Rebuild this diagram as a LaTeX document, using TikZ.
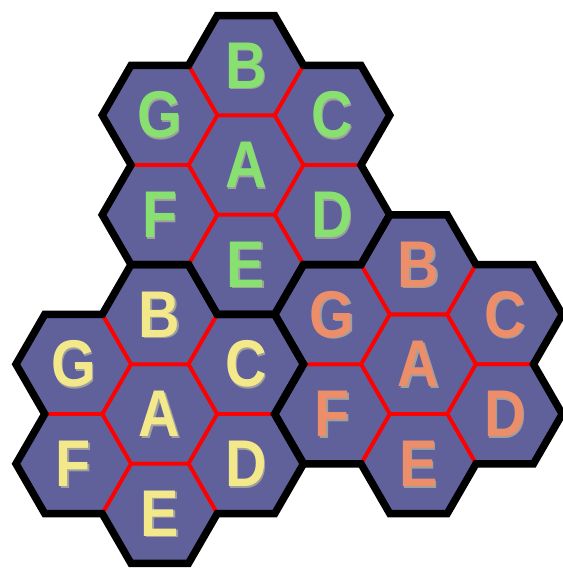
\documentclass[tikz,border=0pt]{standalone}
\usepackage{fontspec}
\setmainfont{Liberation Sans}
\usetikzlibrary{positioning}

\definecolor{fondohex}{HTML}{60609A}
\definecolor{verde}{HTML}{88E070}
\definecolor{amarillo}{HTML}{F4E98A}
\definecolor{salmon}{HTML}{EC8E6A}

\tikzset{
  celda/.style={fill=fondohex, draw=red, line width=2.7pt, line join=miter},
  borde/.style={draw=black, line width=5.3pt, line join=miter},
  letra/.style={font=\fontsize{47}{47}\selectfont\bfseries, xscale=0.87, inner sep=0pt},
  sombra/.style={letra, text=gray!75}
}

\begin{document}
\begin{tikzpicture}[x=0.025cm, y=0.025cm]
    \def\R{57.5}  % radio de cada hexagono
    \def\D{99.6}  % distancia entre centros vecinos
    \useasboundingbox (0,0) rectangle (562,571);

    % Celdas con bordes rojos
    \foreach \x/\y in {246/406, 159.75/157, 418.5/206.8} {
      \begin{scope}[shift={(\x,\y)}]
        \draw[celda] (0:\R) \foreach \k in {60,120,...,300} { -- (\k:\R) } -- cycle;
        \foreach \t in {90,30,330,270,210,150} {
          \draw[celda, shift={(\t:\D)}] (0:\R) \foreach \k in {60,120,...,300} { -- (\k:\R) } -- cycle;
        }
      \end{scope}
    }

    % Contorno negro de cada grupo
    \foreach \x/\y in {246/406, 159.75/157, 418.5/206.8} {
      \begin{scope}[shift={(\x,\y)}]
        \draw[borde] ([shift={(90:\D)}]0:\R)
          \foreach \t in {90,150,210,270,330,30} {
            -- ([shift={(\t:\D)}]\t-30:\R) -- ([shift={(\t:\D)}]\t+30:\R) -- ([shift={(\t:\D)}]\t+90:\R)
          } -- cycle;
      \end{scope}
    }

    % Letras
    \foreach \c/\x/\y/\col in {sup/246/406/verde, izq/159.75/157/amarillo, der/418.5/206.8/salmon} {
      \begin{scope}[shift={(\x,\y)}]
        \node[sombra] (\c As) at (1.5,-1.5) {A};
        \node[letra, text=\col] (\c A) at (0,0) {A};
        \foreach \t/\l in {90/B, 30/C, 330/D, 270/E, 210/F, 150/G} {
          \node[sombra] (\c\l s) at ([shift={(1.5,-1.5)}]\t:\D) {\l};
          \node[letra, text=\col] (\c\l) at (\t:\D) {\l};
        }
      \end{scope}
    }
\end{tikzpicture}
\end{document}
